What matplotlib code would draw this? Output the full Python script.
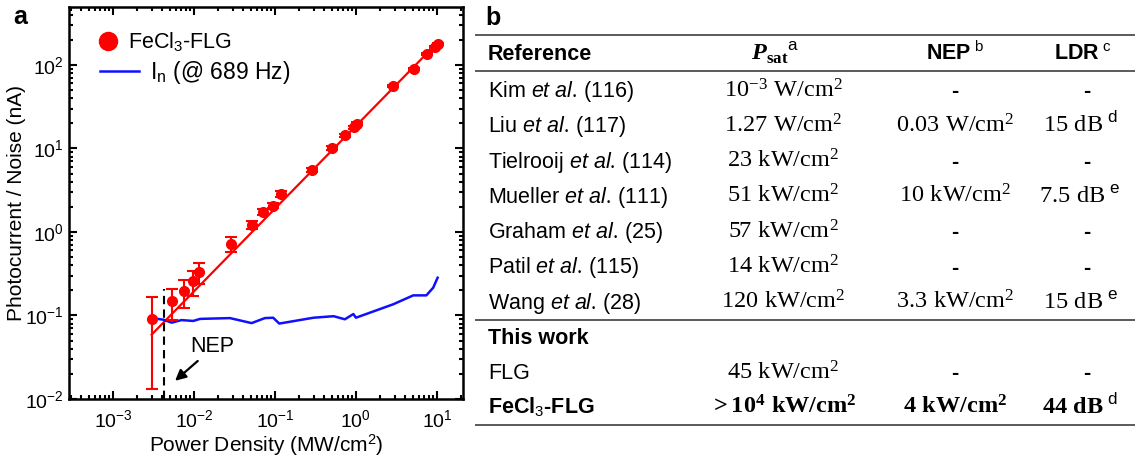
import matplotlib
matplotlib.use('Agg')
import matplotlib.pyplot as plt
from matplotlib.lines import Line2D
import numpy as np

plt.rcParams['font.family'] = ['Liberation Sans', 'DejaVu Sans']
plt.rcParams['mathtext.fontset'] = 'custom'
plt.rcParams['mathtext.rm'] = 'Liberation Serif'
plt.rcParams['mathtext.it'] = 'Liberation Sans:italic'
plt.rcParams['mathtext.bf'] = 'Liberation Serif:bold'
plt.rcParams['mathtext.bfit'] = 'Liberation Serif:italic:bold'
plt.rcParams['mathtext.sf'] = 'Liberation Sans'

# panel a data (MW/cm2, nA)
pd_x = [0.0030, 0.0053, 0.0076, 0.0096, 0.0116, 0.0284, 0.0515, 0.0718, 0.095, 0.119,
        0.284, 0.51, 0.73, 0.94, 1.02, 2.88, 5.2, 7.47, 9.44, 10.2]
pc_y = [0.090, 0.149, 0.196, 0.257, 0.333, 0.72, 1.22, 1.74, 2.07, 2.85,
        5.56, 10.1, 14.3, 18.0, 19.7, 56, 89.6, 135, 163, 177]
pc_err = [0.077, 0.06, 0.073, 0.085, 0.097, 0.15, 0.15, 0.15, 0.15, 0.2,
          0.3, 0.5, 0.6, 0.8, 0.8, 2, 3, 4, 5, 5]
fit_x = [0.003, 10.0]
fit_y = [0.059, 182]
noise_x = [0.0030, 0.0042, 0.0053, 0.0070, 0.0098, 0.0119, 0.0278, 0.0515, 0.075, 0.095,
           0.113, 0.30, 0.53, 0.73, 0.93, 1.0, 2.88, 5.1, 7.4, 9.0, 10.2]
noise_y = [0.093, 0.089, 0.082, 0.088, 0.086, 0.091, 0.093, 0.081, 0.093, 0.094,
           0.080, 0.094, 0.098, 0.090, 0.104, 0.094, 0.136, 0.174, 0.174, 0.215, 0.283]
nep_x = 0.0043
nep_top = 0.21

# panel b table
refs = ['Kim', 'Liu', 'Tielrooij', 'Mueller', 'Graham', 'Patil', 'Wang']
ref_nums = ['116', '117', '114', '111', '25', '115', '28']
psat = [r'10^{-3}\ W/cm^2', r'1.27\ W/cm^2', r'23\ kW/cm^2', r'51\ kW/cm^2',
        r'57\ kW/cm^2', r'14\ kW/cm^2', r'120\ kW/cm^2']
nep = ['-', r'0.03\ W/cm^2', '-', r'10\ kW/cm^2', '-', '-', r'3.3\ kW/cm^2']
ldr = ['-', r'15\ dB', '-', r'7.5\ dB', '-', '-', r'15\ dB']
ldr_note = ['', 'd', '', 'e', '', '', 'e']
flg_psat = r'45\ kW/cm^2'
fecl_psat = r'>10^4\ kW/cm^2'
fecl_nep = r'4\ kW/cm^2'
fecl_ldr = r'44\ dB'

fig = plt.figure(figsize=(11.35, 4.59), dpi=100)
ax = fig.add_axes([69/1135, 1-399/459, (463-69)/1135, (399-7)/459])

blue = '#1010ff'
ax.plot(fit_x, fit_y, color='red', lw=1.6, zorder=2)
ax.plot(noise_x, noise_y, color=blue, lw=1.8, zorder=3)
ax.errorbar(pd_x, pc_y, yerr=pc_err, fmt='o', color='red', ms=7, ecolor='red',
            elinewidth=1.5, capsize=4, capthick=1.5, zorder=4)
ax.plot([nep_x, nep_x], [0.01, nep_top], color='black', ls='--', lw=1.5, dashes=(4, 2.5))
ax.text(0.0166, 0.043, 'NEP', fontsize=15.5, ha='center', va='center')
ax.annotate('', xy=(0.0055, 0.0157), xytext=(0.0118, 0.030),
            arrowprops=dict(arrowstyle='-|>', color='black', lw=1.6, mutation_scale=16))

ax.set_xscale('log')
ax.set_yscale('log')
ax.set_xlim(2.86e-4, 21)
ax.set_ylim(0.01, 493)
for s in ax.spines.values():
    s.set_linewidth(1.8)
ax.tick_params(which='both', direction='in', top=True, right=True, width=1.5)
ax.tick_params(which='major', length=6, labelsize=14, pad=4)
ax.tick_params(which='minor', length=3)
ax.tick_params(axis='x', which='major', pad=7)
ax.set_xlabel('Power Density (MW/cm$^\\mathregular{2}$)', fontsize=15)
ax.set_ylabel('Photocurrent / Noise (nA)', fontsize=15)
ax.xaxis.set_label_coords(0.5, -0.084)
ax.yaxis.set_label_coords(-0.11, 0.5)

leg1 = ax.legend([Line2D([], [], color='red', marker='o', ls='none', ms=13)],
                 ['FeCl$_\\mathsf{3}$-FLG'], loc='center left',
                 bbox_to_anchor=(0.0726, 0.911), frameon=False, fontsize=15.5,
                 handlelength=1.0, handletextpad=0.4, borderpad=0, borderaxespad=0)
ax.add_artist(leg1)
ax.legend([Line2D([], [], color=blue, lw=1.8)], ['I$_\\mathsf{n}$ (@ 689 Hz)'],
          loc='center left', bbox_to_anchor=(0.0787, 0.834), frameon=False,
          fontsize=16.5, handlelength=1.68, handletextpad=0.5, borderpad=0,
          borderaxespad=0)

fig.text(20/1135, 1-17/459, 'a', fontsize=18, fontweight='bold', ha='center', va='center')
fig.text(493/1135, 1-18/459, 'b', fontsize=18, fontweight='bold', ha='center', va='center')

# table on an overlay axes in pixel units
tb = fig.add_axes([0, 0, 1, 1])
tb.set_xlim(0, 1135)
tb.set_ylim(459, 0)
tb.set_axis_off()

x_ref, x_psat, x_nep, x_ldr = 488, 783, 955, 1080
fs = 15.5
fv = 17.5
line_kw = dict(color='#5a5a5a', lw=1.4)
for yl in [35, 71, 319.5, 425]:
    tb.plot([476, 1135], [yl, yl], **line_kw)

def cell(x, y, s, size=fs, **kw):
    tb.text(x, y + 7, s, fontsize=size, va='baseline', **kw)

hy = 53
cell(x_ref, hy, 'Reference', ha='left', fontweight='bold')
cell(x_psat - 8, hy, r'$\mathbfit{P}_{\mathbf{sat}}{}^{\mathsf{a}}$', size=fv, ha='center')
cell(x_nep, hy, 'NEP' + r'$^{\mathsf{\ b}}$', ha='center', fontweight='bold')
cell(x_ldr + 3, hy, 'LDR' + r'$^{\mathsf{\ c}}$', ha='center', fontweight='bold')

for i in range(len(refs)):
    y = 90 + 35.3 * i
    cell(x_ref, y, refs[i] + r' $\mathit{et\ al.}\,$(' + ref_nums[i] + ')', ha='left')
    cell(x_psat, y, '$\\mathrm{' + psat[i] + '}$', size=fv, ha='center')
    if nep[i] == '-':
        cell(x_nep, y, '-', ha='center', fontweight='bold')
    else:
        cell(x_nep, y, '$\\mathrm{' + nep[i] + '}$', size=fv, ha='center')
    if ldr[i] == '-':
        cell(x_ldr + 7, y, '-', ha='center', fontweight='bold')
    else:
        cell(x_ldr, y, '$\\mathrm{' + ldr[i] + '}^{\\mathsf{\\ ' + ldr_note[i] + '}}$',
             size=fv, ha='center')

cell(x_ref, 337, 'This work', ha='left', fontweight='bold')
cell(x_ref, 372, 'FLG', ha='left')
cell(x_psat, 372, '$\\mathrm{' + flg_psat + '}$', size=fv, ha='center')
cell(x_nep, 372, '-', ha='center', fontweight='bold')
cell(x_ldr + 7, 372, '-', ha='center', fontweight='bold')
cell(x_ref, 406.5, 'FeCl$_\\mathsf{3}$-FLG', ha='left', fontweight='bold')
cell(x_psat, 406.5, '$\\mathbf{' + fecl_psat + '}$', size=fv, ha='center')
cell(x_nep, 406.5, '$\\mathbf{' + fecl_nep + '}$', size=fv, ha='center')
cell(x_ldr, 406.5, '$\\mathbf{' + fecl_ldr + '}^{\\mathsf{\\ d}}$', size=fv, ha='center')

fig.savefig('out.png', dpi=100)
